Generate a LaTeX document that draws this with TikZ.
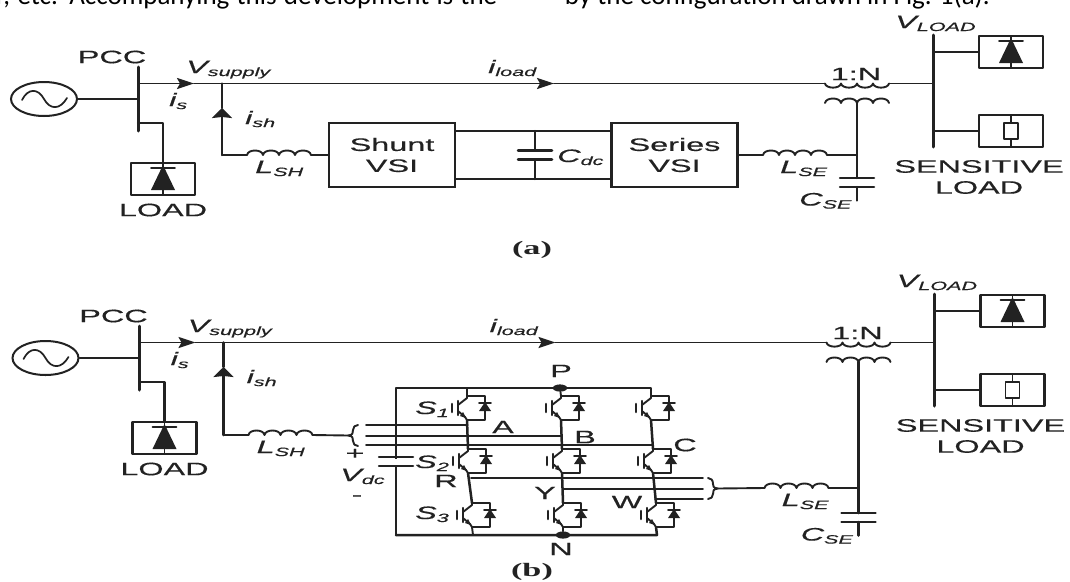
\documentclass[tikz,border=0pt]{standalone}
\usepackage{fontspec}
\setmainfont[FakeStretch=1.8,FakeBold=0.35]{Liberation Sans}
\newfontfamily\topf{Carlito}
\newfontfamily\capf[FakeStretch=1.8]{Liberation Serif}
\usetikzlibrary{arrows.meta,shapes.geometric}
\definecolor{ink}{HTML}{222222}
\newcommand\subt[1]{\raisebox{-3pt}{\fontsize{12}{12}\selectfont #1}}
\tikzset{
  wire/.style={draw=ink,line width=1.9pt,line cap=round,line join=round},
  heavy/.style={draw=ink,line width=3pt,line cap=round,line join=round},
  arrowR/.style={wire,-{Stealth[length=17pt,width=11pt,inset=3pt]}},
  arrowU/.style={wire,line width=2.5pt,-{Stealth[length=10pt,width=20pt,inset=1pt]}},
  lab/.style={text=ink,font=\fontsize{18}{21}\selectfont,inner sep=0pt,align=center},
  ilab/.style={lab,font=\fontsize{18}{21}\selectfont\itshape,anchor=base west},
  vsi/.style={draw=ink,line width=2.5pt,minimum width=126pt,minimum height=64pt,inner sep=0pt,text=ink,font=\fontsize{18}{21}\selectfont,align=center},
  coilU/.pic={\coordinate (-a) at (0,0);\coordinate (-b) at (64,0);
    \draw[wire] (0,0) foreach \k in {1,2,3,4}{ .. controls +(1,-6) and +(-1,-6) .. ++(16,0)};},
  coilD/.pic={\coordinate (-a) at (0,0);\coordinate (-b) at (64,0);
    \draw[wire] (0,0) foreach \k in {1,2,3,4}{ .. controls +(1,5.5) and +(-1,5.5) .. ++(16,0)};},
  capac/.pic={\coordinate (-t) at (0,-4.5);\coordinate (-b) at (0,4.5);
    \draw[heavy,line width=2.5pt] (-17,-4.5)--(17,-4.5) (-17,4.5)--(17,4.5);},
  diodebox/.pic={\coordinate (-t) at (0,-16);\coordinate (-w) at (-32,0);
    \draw[wire,line width=2.5pt] (-32,-16) rectangle (32,16);
    \draw[wire] (0,-16)--(0,16);
    \draw[wire] (-12,-11)--(12,-11);
    \fill[ink] (0,-14)--(12,11)--(-12,11)--cycle;},
  resbox/.pic={\coordinate (-w) at (-32,0);
    \draw[wire,line width=2.5pt] (-32,-16) rectangle (32,16);
    \draw[wire] (0,-16)--(0,-8) (0,8)--(0,16);
    \draw[wire,fill=white] (-7,-8) rectangle (7,8);},
  igbt/.pic={\coordinate (-c) at (0,-12);\coordinate (-e) at (0,12);
    \draw[wire,line width=2.6pt] (-15,-4)--(-15,4);
    \draw[wire,line width=2.4pt] (-9,-7)--(-9,7);
    \draw[wire] (-9,-3)--(0,-10)--(0,-12)--(18,-12)--(18,12)--(0,12)--(-2,9)--(-9,3);
    \fill[ink] (-1,10)--(-7,8)--(-4,4)--cycle;
    \draw[wire] (12,-5)--(24,-5);
    \fill[ink] (18,-6)--(24,3)--(12,3)--cycle;},
}
% shared feeder: #1 prefix, #2 dx, #3 dy, #4 shunt branch y, #5 series branch y, #6 filter cap y
\newcommand\feeder[6]{%
\begin{scope}[shift={(#2,#3)}]
  \node[draw=ink,line width=2pt,ellipse,minimum width=66pt,minimum height=34pt,inner sep=0pt] (#1src) at (44,99) {};
  \draw[wire,line width=1.7pt] (22,100) .. controls (28,88) and (38,88) .. (44,99) .. controls (50,110) and (60,110) .. (67,98);
  \coordinate (#1bt) at (138,67);\coordinate (#1bb) at (138,131);
  \draw[heavy] (#1bt)--(#1bb);
  \coordinate (#1b1) at (138,99);
  \draw[wire] (#1src.east)--(#1b1);
  \coordinate (#1m0) at (138,83.5);\coordinate (#1ma) at (194,83.5);\coordinate (#1j) at (222,83.5);
  \coordinate (#1mb) at (554,83.5);
  \pic (#1tp) at (825,83.5) {coilD};
  \pic (#1ts) at (825,103) {coilU};
  \draw[arrowR] (#1m0)--(#1ma);
  \draw[wire] (#1ma)--(#1j);
  \draw[arrowR] (#1j)--(#1mb);
  \draw[wire] (#1mb)--(#1tp-a);
  % PCC load
  \pic (#1ld) at (163,179) {diodebox};
  \coordinate (#1b2) at (138,123);
  \draw[wire,line width=2.5pt] (#1b2)-|(#1ld-t);
  % shunt branch
  \coordinate (#1su) at (222,108);\coordinate (#1sc) at (222,#4);
  \draw[arrowU] (#1sc)--(#1su);
  \draw[wire,line width=2.5pt] (#1su)--(#1j);
  \pic (#1csh) at (247,#4) {coilU};
  \draw[wire] (#1sc)--(#1csh-a);
  % load bus
  \coordinate (#1lt) at (933,35);\coordinate (#1lb) at (933,147);
  \draw[heavy] (#1lt)--(#1lb);
  \coordinate (#1l0) at (933,83.5);
  \draw[wire] (#1tp-b)--(#1l0);
  \pic (#1d2) at (1011,52) {diodebox};
  \pic (#1r2) at (1011,131) {resbox};
  \coordinate (#1l1) at (933,52);\coordinate (#1l2) at (933,131);
  \draw[wire] (#1l1)--(#1d2-w);
  \draw[wire] (#1l2)--(#1r2-w);
  % series transformer branch
  \coordinate (#1v0) at (857,103);\coordinate (#1vs) at (857,#5);
  \pic (#1cse) at (763,#5) {coilU};
  \pic (#1cfl) at (857,#6) {capac};
  \draw[heavy,line width=2.5pt] (#1v0)--(#1cfl-t);
  \draw[wire] (#1cse-b)--(#1vs);
  \coordinate (#1gnd) at (857,#6+18);
  \draw[heavy,line width=2.5pt] (#1cfl-b)--(#1gnd);
  % labels
  \node[lab] (#1pcc) at (112,57) {PCC};
  \node[ilab] (#1vsup) at (186,73) {V\subt{supply}};
  \node[ilab] (#1is) at (169,106) {i\subt{s}};
  \node[ilab] (#1ish) at (245,124) {i\subt{sh}};
  \node[ilab] (#1ilo) at (488,73) {i\subt{load}};
  \node[lab] (#1load) at (163,210) {LOAD};
  \node[ilab] (#1lsh) at (255,#4+18) {L\subt{SH}};
  \node[ilab] (#1lse) at (780,#5+18) {L\subt{SE}};
  \node[ilab] (#1cse2) at (799,#6+23) {C\subt{SE}};
  \node[lab] (#1ratio) at (856,74) {1:N};
  \node[ilab] (#1vl) at (895,28) {V\subt{LOAD}};
  \node[lab] (#1sl) at (979,177) {SENSITIVE\\LOAD};
\end{scope}}
\begin{document}
\begin{tikzpicture}[x=1pt,y=-1pt]
\useasboundingbox (0,0) rectangle (1070,581);
\fill[white] (0,0) rectangle (1070,581);
\begin{scope}
  \clip (0,0) rectangle (1070,581);
  \node[anchor=base west,inner sep=0pt,text=black,font=\fontsize{27}{27}\selectfont\topf] (topl) at (-4,4) {\makebox[501pt][s]{r, etc. Accompanying this development is the}};
  \node[anchor=base east,inner sep=0pt,text=black,font=\fontsize{27}{27}\selectfont\topf] (topr) at (990,4) {by the configuration drawn in Fig. 1(a).};
\end{scope}

% ------ (a)
\feeder{a}{0}{0}{155}{155}{182.5}
\node[vsi] (ash) at (392,155) {Shunt\\VSI};
\node[vsi] (ase) at (674.5,155) {Series\\VSI};
\draw[wire] (acsh-b)--(ash.west);
\draw[wire] (ase.east)--(acse-a);
\coordinate (adt) at (535,131);\coordinate (adb) at (535,179);
\pic (adc) at (535,155) {capac};
\draw[wire] ([yshift=24pt]ash.east)--([yshift=24pt]ase.west);
\draw[wire] ([yshift=-24pt]ash.east)--([yshift=-24pt]ase.west);
\draw[wire,line width=2.5pt] (adt)--(adc-t) (adc-b)--(adb);
\node[ilab] (acdc) at (557,162) {C\subt{dc}};
\node[lab,font=\fontsize{19}{19}\selectfont\capf\bfseries] (acap) at (532,250) {(a)};

% ------ (b)
\feeder{b}{1.5}{259}{176}{229}{258.5}
% DC rails
\coordinate (rtl) at (396,388);\coordinate (rbl) at (396,535);
\node[circle,fill=ink,minimum size=9pt,inner sep=0pt,yscale=.8,xscale=1.6] (P) at (560,388) {};
\node[circle,fill=ink,minimum size=9pt,inner sep=0pt,yscale=.8,xscale=1.6] (Nn) at (563,535) {};
\pic (a1) at (467,408) {igbt};
\pic (a2) at (468,461) {igbt};
\pic (a3) at (472,515) {igbt};
\pic (b1) at (561,408) {igbt};
\pic (b2) at (562,461) {igbt};
\pic (b3) at (563,515) {igbt};
\pic (c1) at (651,408) {igbt};
\pic (c2) at (653,461) {igbt};
\pic (c3) at (656,515) {igbt};
\coordinate (rtr) at (651,388);\coordinate (rbr) at (657,535);
\coordinate (rta) at (467,388);\coordinate (rba) at (473,535);
\draw[wire,line width=2.5pt] (rbl)--(rtl)--(rtr)--(c1-c);
\draw[wire,line width=2.5pt] (rbl)--(rbr)--(c3-e);
\draw[wire] (a1-c)--(rta);
\draw[wire] (b1-c)--(P) (b3-e)--(Nn) (a3-e)--(rba);
\draw[heavy,line width=2.5pt] (a1-e)--(a2-c) (a2-e)--(a3-c) (b1-e)--(b2-c) (b2-e)--(b3-c) (c1-e)--(c2-c) (c2-e)--(c3-c);
\pic (vdc) at (396,461.5) {capac};
\path (vdc-t) -- (vdc-b);
\fill[white] (393,458.5) rectangle (399,464.5);
% input three-phase bus
\coordinate (brL) at (348,435.5);
\draw[wire] (brL) .. controls (353,435) and (353,433) .. (353,430) .. controls (353,427) and (355,425) .. (358,425)
            (brL) .. controls (353,436) and (353,438) .. (353,441) .. controls (353,444) and (355,446) .. (358,446);
\draw[wire] (bcsh-b)--(brL);
\coordinate (ia) at (366,425);\coordinate (ib) at (366,436);\coordinate (ic) at (366,445);
\coordinate (ia2) at (467.6,425);\coordinate (ib2) at (561.5,436);\coordinate (ic2) at (652,445);
\draw[wire] (ia)--(ia2) (ib)--(ib2) (ic)--(ic2);
% output three-phase bus
\coordinate (oa) at (471,478);\coordinate (ob) at (563,489);\coordinate (oc) at (655,499);
\coordinate (oa2) at (703,478);\coordinate (ob2) at (703,489);\coordinate (oc2) at (703,499);
\draw[wire] (oa)--(oa2) (ob)--(ob2) (oc)--(oc2);
\coordinate (brR) at (718,488.5);
\draw[wire] (brR) .. controls (713,488) and (713,486) .. (713,484) .. controls (713,480) and (711,478) .. (708,478)
            (brR) .. controls (713,489) and (713,491) .. (713,494) .. controls (713,497) and (711,499) .. (708,499);
\draw[wire] (brR)--(bcse-a);
% labels
\node[ilab] (s1) at (415,414) {S\subt{1}};
\node[ilab] (s2) at (415,468) {S\subt{2}};
\node[ilab] (s3) at (415,519) {S\subt{3}};
\node[lab] (lR) at (446,481) {R};
\node[lab] (lA) at (503,427) {A};
\node[lab] (lB) at (585,437) {B};
\node[lab] (lC) at (685,445) {C};
\node[lab] (lY) at (545,493) {Y};
\node[lab] (lW) at (627,502) {W};
\node[lab] (lP) at (561,371) {P};
\node[lab] (lN) at (561,549) {N};
\node[lab] (plus) at (355,454) {+};
\node[ilab] (lv) at (340,481) {V\subt{dc}};
\node[lab] (minus) at (357,498) {-};
\node[lab,font=\fontsize{19}{19}\selectfont\capf\bfseries] (bcap) at (532,572) {(b)};
\end{tikzpicture}
\end{document}
